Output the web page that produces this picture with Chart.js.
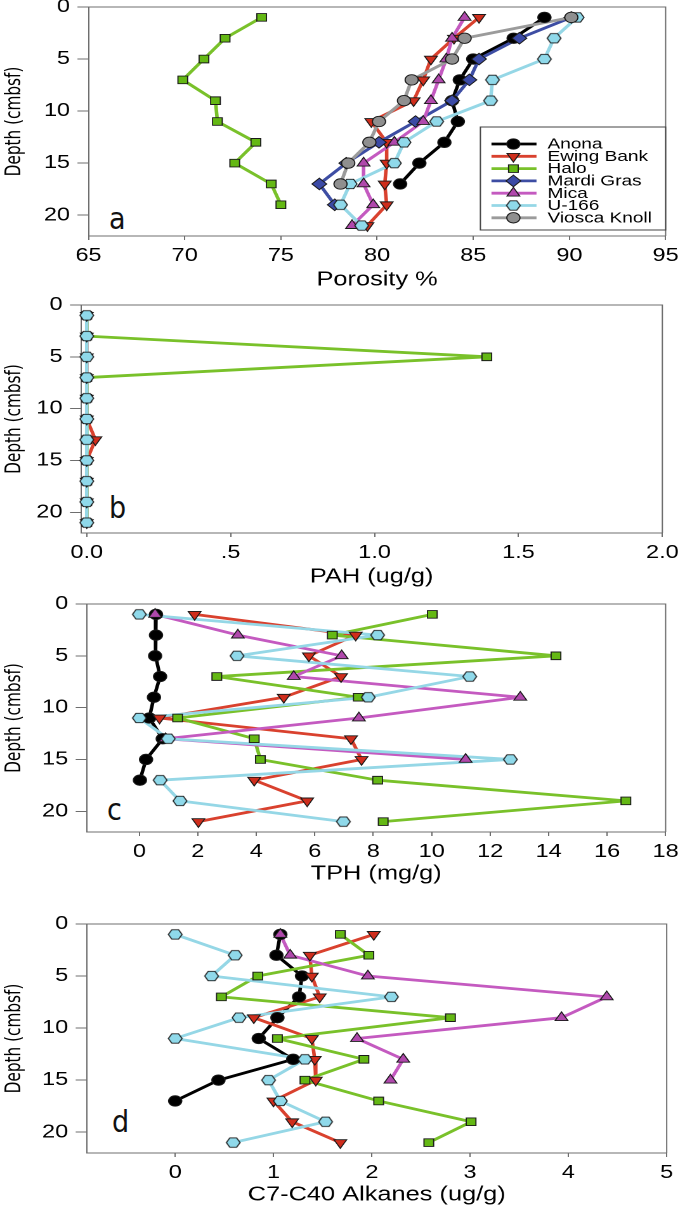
<!DOCTYPE html>
<html>
<head>
<meta charset="utf-8">
<script src="https://cdn.jsdelivr.net/npm/chart.js@4.4.0/dist/chart.umd.min.js"></script>
<style>
  body { margin: 0; background: #fff; width: 685px; height: 1205px; overflow: hidden; position: relative; }
  canvas { position: absolute; left: 0; }
  .tag { position: absolute; font-family: 'Liberation Sans Narrow', 'Arial Narrow', 'DejaVu Sans Condensed', 'Liberation Sans', sans-serif; font-size: 30px; line-height: 1; color: #111; }
</style>
</head>
<body>
<div class="tag" style="left:109px;top:204px">a</div>
<div class="tag" style="left:109px;top:493px">b</div>
<div class="tag" style="left:107px;top:795px">c</div>
<div class="tag" style="left:112px;top:1107px">d</div>
<script>
// depths (cmbsf) of the core slices
const depths = [1, 3, 5, 7, 9, 11, 13, 15, 17, 19, 21];
const depthTicks = [0, 5, 10, 15, 20];
const sites = ['Anona', 'Ewing Bank', 'Halo', 'Mardi Gras', 'Mica', 'U-166', 'Viosca Knoll'];

// a - porosity (%)
const anonaPor  = [88.7, 87.1, 85.0, 84.3, 83.9, 84.2, 83.5, 82.2, 81.2];
const ewingPor  = [85.3, 84.0, 82.8, 82.4, 81.9, 79.7, 80.5, 80.5, 80.4, 80.5, 79.5];
const haloPor   = [74.0, 72.1, 71.0, 69.9, 71.6, 71.7, 73.7, 72.6, 74.5, 75.0];
const mardiPor  = [90.1, 87.4, 85.3, 84.8, 83.9, 82.0, 80.1, 78.4, 77.0, 77.8];
const micaPor   = [84.55, 83.9, 83.6, 83.2, 82.8, 82.4, 80.9, 79.3, 79.3, 79.8, 78.7];
const u166Por   = [90.4, 89.2, 88.7, 86.0, 85.9, 83.1, 81.4, 80.9, 78.6, 78.1, 79.2];
const vioscaPor = [90.1, 84.55, 83.9, 81.8, 81.4, 80.1, 79.6, 78.5, 78.1];
const porTicks = [65, 70, 75, 80, 85, 90, 95];

// b - PAH (ug/g)
const ewingPah = [0, 0, 0, 0, 0, 0, 0.03, 0, 0, 0, 0];
const haloPah  = [0, 0, 1.39, 0, 0, 0, 0, 0, 0, 0, 0];
const u166Pah  = [0, 0, 0, 0, 0, 0, 0, 0, 0, 0, 0];
const pahTicks = [0, 0.5, 1, 1.5, 2];
const pahTickLabels = ['0.0', '.5', '1.0', '1.5', '2.0'];

// c - TPH (mg/g)
const anonaTph = [0.57, 0.57, 0.54, 0.71, 0.5, 0.34, 0.8, 0.23, 0.02];
const ewingTph = [1.89, 7.4, 5.8, 6.9, 4.94, 0.69, 7.24, 7.6, 3.93, 5.74, 2.02];
const haloTph  = [10.02, 6.6, 14.25, 2.65, 7.49, 1.31, 3.93, 4.14, 8.15, 16.64, 8.34];
const micaTph  = [0.54, 3.37, 6.92, 5.28, 13.03, 7.51, 0.9, 11.16];
const u166Tph  = [0.0, 8.15, 3.34, 11.3, 7.83, 0.0, 0.99, 12.69, 0.71, 1.39, 6.98];
const tphTicks = [0, 2, 4, 6, 8, 10, 12, 14, 16, 18];

// d - C7-C40 alkanes (ug/g)
const anonaAlk = [1.07, 1.03, 1.29, 1.26, 1.04, 0.85, 1.2, 0.44, 0.0];
const ewingAlk = [2.02, 1.37, 1.39, 1.47, 0.8, 1.39, 1.42, 1.43, 1.0, 1.19, 1.68];
const haloAlk  = [1.68, 1.97, 0.84, 0.47, 2.8, 1.04, 1.92, 1.32, 2.07, 3.01, 2.58];
const micaAlk  = [1.07, 1.17, 1.96, 4.39, 3.93, 1.85, 2.32, 2.19];
const u166Alk  = [0.0, 0.61, 0.37, 2.2, 0.65, 0.0, 1.32, 0.95, 1.07, 1.53, 0.59];
const alkTicks = [0, 1, 2, 3, 4, 5];

// the original figure is stretched sideways, so canvases are drawn 540 wide and shown 685 wide
const W = 540;
const S = 685 / W;
const lg = v => v / S;
const AXIS = '#6e6e6e';
const FONT = "'Liberation Sans', Arial, sans-serif";
const NARROW = "'Liberation Sans Narrow', 'Arial Narrow', 'DejaVu Sans Condensed', 'Liberation Sans', sans-serif";

function hexImage(r, fill, stroke) {
    const size = Math.ceil(2 * r + 2);
    const c = document.createElement('canvas');
    c.width = size * 2;
    c.height = size * 2;
    const g = c.getContext('2d');
    g.scale(2, 2);
    g.beginPath();
    for (let k = 0; k < 6; k++) {
        const a = Math.PI / 3 * k;
        const px = size / 2 + r * Math.cos(a);
        const py = size / 2 + r * Math.sin(a);
        if (k) g.lineTo(px, py); else g.moveTo(px, py);
    }
    g.closePath();
    g.fillStyle = fill;
    g.fill();
    g.lineWidth = 0.9;
    g.strokeStyle = stroke;
    g.stroke();
    const img = new Image();
    img.width = size;
    img.height = size;
    img.src = c.toDataURL();
    return img;
}

const hex = hexImage(5.4, '#8fd9ea', '#1a1a1a');

// marker and line look of each site
const looks = [
    { line: '#000000', fill: '#000000', style: 'circle', r: 5.2, rot: 0 },
    { line: '#d9412e', fill: '#cf2d1c', style: 'triangle', r: 5.8, rot: 180 },
    { line: '#79c12a', fill: '#64b814', style: 'rect', r: 5.4, rot: 0 },
    { line: '#3d4da3', fill: '#3b4aa5', style: 'rectRot', r: 5.8, rot: 0 },
    { line: '#c45ac0', fill: '#b048ac', style: 'triangle', r: 5.8, rot: 0 },
    { line: '#95d7e6', fill: '#8fd9ea', style: hex, r: 5.4, rot: 0 },
    { line: '#9b9b9b', fill: '#8f8f8f', style: 'circle', r: 5.2, rot: 0 }
];

// each site gives a line dataset and a symbol dataset, so symbols sit above every line
function series(site, values) {
    const look = looks[site];
    const pts = values.map((v, i) => ({ x: v, y: depths[i] }));
    return [{
        label: sites[site],
        data: pts,
        showLine: true,
        borderColor: look.line,
        borderWidth: 2.8,
        borderJoinStyle: 'round',
        borderCapStyle: 'round',
        pointRadius: 0,
        clip: false,
        order: 30 - site
    }, {
        label: sites[site],
        data: pts,
        showLine: false,
        pointStyle: look.style,
        pointRadius: look.r,
        pointRotation: look.rot,
        pointBackgroundColor: look.fill,
        pointBorderColor: '#1a1a1a',
        pointBorderWidth: 0.9,
        clip: false,
        order: 10 - site
    }];
}

const framePlugin = {
    id: 'frame',
    afterDraw(chart) {
        const { ctx, chartArea: a } = chart;
        ctx.save();
        ctx.strokeStyle = AXIS;
        ctx.lineWidth = 1;
        ctx.beginPath();
        ctx.moveTo(a.left, a.top);
        ctx.lineTo(a.right, a.top);
        ctx.lineTo(a.right, a.bottom);
        ctx.stroke();
        ctx.restore();
    }
};

const legendPlugin = {
    id: 'boxLegend',
    afterDraw(chart) {
        if (!chart.options.plugins.boxLegend.show) return;
        const { ctx, chartArea: a } = chart;
        const box = { left: a.right - 146, right: a.right, top: a.bottom - 109, bottom: a.bottom - 6 };
        ctx.save();
        ctx.fillStyle = '#fff';
        ctx.fillRect(box.left, box.top, box.right - box.left, box.bottom - box.top);
        ctx.strokeStyle = '#444';
        ctx.lineWidth = 1;
        ctx.strokeRect(box.left, box.top, box.right - box.left, box.bottom - box.top);
        ctx.font = '15px ' + FONT;
        ctx.textBaseline = 'middle';
        sites.forEach((name, i) => {
            const look = looks[i];
            const y = box.top + 17 + i * 12.3;
            ctx.strokeStyle = look.line;
            ctx.lineWidth = 2.8;
            ctx.beginPath();
            ctx.moveTo(box.left + 8.7, y);
            ctx.lineTo(box.left + 44.2, y);
            ctx.stroke();
            ctx.fillStyle = look.fill;
            ctx.strokeStyle = '#1a1a1a';
            ctx.lineWidth = 0.9;
            Chart.helpers.drawPoint(ctx, { pointStyle: look.style, radius: look.r, rotation: look.rot, borderWidth: 0.9 }, box.left + 26, y);
            ctx.fillStyle = '#000';
            ctx.fillText(name, box.left + 52.9, y + 0.5);
        });
        ctx.restore();
    }
};

const panels = [
    { top: -10, height: 302, left: lg(88.5), right: lg(671), axisH: 56, min: 65, max: 95,
      ticks: porTicks, labels: null, title: 'Porosity %', legend: true,
      data: [series(0, anonaPor), series(1, ewingPor), series(2, haloPor), series(3, mardiPor),
             series(4, micaPor), series(5, u166Por), series(6, vioscaPor)] },
    { top: 288, height: 301, left: lg(81), right: lg(667.7), axisH: 56, min: -0.02, max: 2,
      ticks: pahTicks, labels: pahTickLabels, title: 'PAH (ug/g)', legend: false,
      data: [series(1, ewingPah), series(2, haloPah), series(5, u166Pah)] },
    { top: 587, height: 299, left: lg(86.7), right: lg(666.7), axisH: 54, min: -1.8, max: 18,
      ticks: tphTicks, labels: null, title: 'TPH (mg/g)', legend: false,
      data: [series(0, anonaTph), series(1, ewingTph), series(2, haloTph), series(4, micaTph), series(5, u166Tph)] },
    { top: 907, height: 300, left: lg(86.7), right: lg(666.7), axisH: 54, min: -0.9, max: 5,
      ticks: alkTicks, labels: null, title: 'C7-C40 Alkanes (ug/g)', legend: false,
      data: [series(0, anonaAlk), series(1, ewingAlk), series(2, haloAlk), series(4, micaAlk), series(5, u166Alk)] }
];

function drawPanel(p) {
    const canvas = document.createElement('canvas');
    canvas.width = W;
    canvas.height = p.height;
    canvas.style.top = p.top + 'px';
    canvas.style.width = '685px';
    canvas.style.height = p.height + 'px';
    document.body.appendChild(canvas);

    new Chart(canvas, {
        type: 'scatter',
        data: { datasets: p.data.flat() },
        options: {
            responsive: false,
            devicePixelRatio: 2,
            animation: false,
            events: [],
            layout: { padding: { top: 15, left: 0, right: W - p.right, bottom: 0 } },
            plugins: { legend: { display: false }, tooltip: { enabled: false }, boxLegend: { show: p.legend } },
            scales: {
                x: {
                    type: 'linear',
                    min: p.min,
                    max: p.max,
                    afterBuildTicks: s => { s.ticks = p.ticks.map(v => ({ value: v })); },
                    afterFit: s => { s.height = p.axisH; },
                    ticks: {
                        padding: 5,
                        color: '#000',
                        font: { family: FONT, size: 18.5 },
                        maxRotation: 0,
                        callback: (v, i) => p.labels ? p.labels[i] : String(v)
                    },
                    grid: { drawOnChartArea: false, drawTicks: true, tickLength: 4, color: AXIS },
                    border: { color: AXIS, width: 1 },
                    title: { display: true, text: p.title, color: '#000', font: { family: FONT, size: 20 }, padding: { top: 0, bottom: 0 } }
                },
                y: {
                    type: 'linear',
                    reverse: true,
                    min: 0,
                    max: 22,
                    afterBuildTicks: s => { s.ticks = depthTicks.map(v => ({ value: v })); },
                    afterFit: s => { s.width = p.left; },
                    ticks: { padding: 5.9, color: '#000', font: { family: FONT, size: 18.5 } },
                    grid: { drawOnChartArea: false, drawTicks: true, tickLength: 8.7, color: AXIS },
                    border: { color: AXIS, width: 1 },
                    title: { display: true, text: 'Depth (cmbsf)', color: '#000', font: { family: NARROW, size: 17 }, padding: { top: 1.5, bottom: 0 } }
                }
            }
        },
        plugins: [framePlugin, legendPlugin]
    });
}

hex.decode().catch(() => {}).then(() => panels.forEach(drawPanel));
</script>
</body>
</html>
